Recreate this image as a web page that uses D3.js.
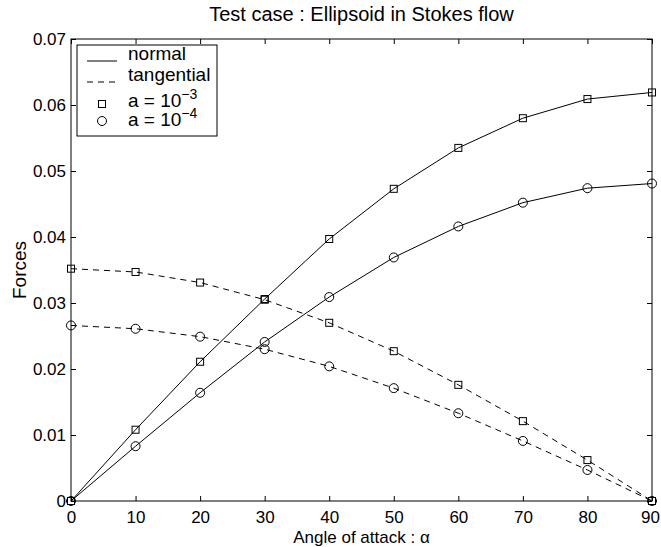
<!DOCTYPE html>
<html>
<head>
<meta charset="utf-8">
<script src="https://cdn.jsdelivr.net/npm/d3@7"></script>
<style>
body{margin:0;background:#fff;}
text{font-family:"Liberation Sans",Arial,sans-serif;fill:#000;}
</style>
</head>
<body>
<svg id="c" width="661" height="547"></svg>
<script>
const angles = [0,10,20,30,40,50,60,70,80,90];
const normalA3 = [0,0.0108,0.0211,0.0306,0.0397,0.0473,0.0535,0.0580,0.0609,0.0619];
const normalA4 = [0,0.0083,0.0164,0.0241,0.0309,0.0369,0.0416,0.0452,0.0474,0.0481];
const tangA3 = [0.0352,0.0347,0.0331,0.0305,0.0270,0.0227,0.0176,0.0121,0.0062,0];
const tangA4 = [0.0266,0.0261,0.0249,0.0230,0.0204,0.0171,0.0133,0.0091,0.0047,0];
const xTicks = [0,10,20,30,40,50,60,70,80,90];
const yTicks = [0,0.01,0.02,0.03,0.04,0.05,0.06,0.07];
const yTickLabels = ["0","0.01","0.02","0.03","0.04","0.05","0.06","0.07"];

const L=71,R=652,T=39,B=501;
const svg=d3.select("#c");
const x=d3.scaleLinear().domain([0,90]).range([L,R]);
const y=d3.scaleLinear().domain([0,0.07]).range([B,T]);

svg.append("rect").attr("x",L).attr("y",T).attr("width",R-L).attr("height",B-T)
  .attr("fill","none").attr("stroke","#000").attr("stroke-width",1);

const fmtY=d=>yTickLabels[yTicks.indexOf(d)];
const gx=svg.append("g").attr("transform",`translate(0,${B})`)
  .call(d3.axisBottom(x).tickValues(xTicks).tickSize(-5).tickPadding(10).tickFormat(d3.format("d")));
svg.append("g").attr("transform",`translate(0,${T})`)
  .call(d3.axisTop(x).tickValues(xTicks).tickSize(-5).tickFormat(""));
svg.append("g").attr("transform",`translate(${L},0)`)
  .call(d3.axisLeft(y).tickValues(yTicks).tickSize(-5).tickPadding(5).tickFormat(fmtY));
svg.append("g").attr("transform",`translate(${R},0)`)
  .call(d3.axisRight(y).tickValues(yTicks).tickSize(-5).tickFormat(""));
svg.selectAll(".domain").remove();
svg.selectAll(".tick text").attr("font-size",17).attr("font-family","Liberation Sans, Arial, sans-serif");
svg.selectAll(".tick line").attr("stroke","#000");
gx.selectAll(".tick text").filter(d=>d===90).attr("dx",-2);

svg.append("text").attr("x",(L+R)/2).attr("y",21).attr("text-anchor","middle").attr("font-size",20)
  .text("Test case : Ellipsoid in Stokes flow");
svg.append("text").attr("x",(L+R)/2).attr("y",543).attr("text-anchor","middle").attr("font-size",17)
  .text("Angle of attack : α");
svg.append("text").attr("transform",`translate(26,${(T+B)/2}) rotate(-90)`).attr("text-anchor","middle").attr("font-size",19)
  .text("Forces");

const line=d3.line().x((d,i)=>x(angles[i])).y(d=>y(d));
const series=[
  {v:normalA3,dash:null,m:"sq"},
  {v:normalA4,dash:null,m:"ci"},
  {v:tangA3,dash:"6,5",m:"sq"},
  {v:tangA4,dash:"6,5",m:"ci"}
];
series.forEach(s=>{
  svg.append("path").datum(s.v).attr("d",line).attr("fill","none").attr("stroke","#000")
    .attr("stroke-width",1).attr("stroke-dasharray",s.dash);
});
function marker(g,cx,cy,m){
  if(m==="sq") g.append("rect").attr("x",cx-3.5).attr("y",cy-3.5).attr("width",7).attr("height",7)
     .attr("fill","none").attr("stroke","#000").attr("stroke-width",1);
  else g.append("circle").attr("cx",cx).attr("cy",cy).attr("r",4.5)
     .attr("fill","none").attr("stroke","#000").attr("stroke-width",1);
}
series.forEach(s=>{
  s.v.forEach((d,i)=>marker(svg,x(angles[i]),y(d),s.m));
});

// legend
const lg=svg.append("g");
lg.append("rect").attr("x",77).attr("y",45).attr("width",140).attr("height",91)
  .attr("fill","#fff").attr("stroke","#000").attr("stroke-width",1);
lg.append("line").attr("x1",87).attr("x2",117).attr("y1",61).attr("y2",61).attr("stroke","#000");
lg.append("line").attr("x1",87).attr("x2",117).attr("y1",82).attr("y2",82).attr("stroke","#000").attr("stroke-dasharray","6,5");
marker(lg,102,104,"sq");
marker(lg,102,121,"ci");
lg.append("text").attr("x",128).attr("y",60).attr("font-size",19).text("normal");
lg.append("text").attr("x",128).attr("y",81).attr("font-size",19).text("tangential");
const t3=lg.append("text").attr("x",128).attr("y",107).attr("font-size",19);
t3.append("tspan").text("a = 10");
t3.append("tspan").attr("dy",-8).attr("font-size",14).text("−3");
const t4=lg.append("text").attr("x",128).attr("y",126).attr("font-size",19);
t4.append("tspan").text("a = 10");
t4.append("tspan").attr("dy",-8).attr("font-size",14).text("−4");
</script>
</body>
</html>
